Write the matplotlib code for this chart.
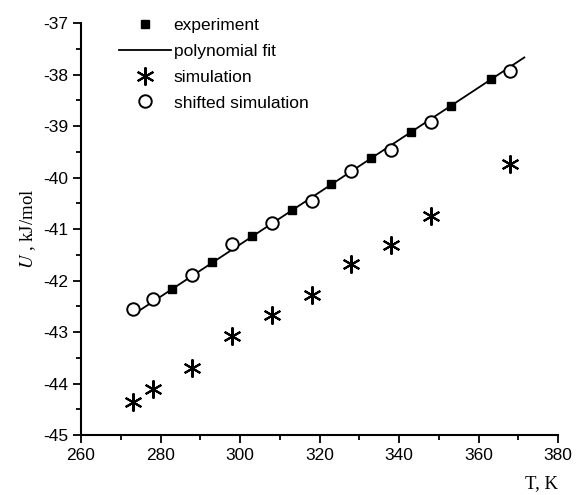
import numpy as np
import matplotlib
matplotlib.use("Agg")
import matplotlib.pyplot as plt
from matplotlib.ticker import MultipleLocator

plt.rcParams['font.family'] = ['Liberation Sans', 'DejaVu Sans']
plt.rcParams['mathtext.fontset'] = 'stix'
plt.rcParams['axes.unicode_minus'] = False

# experiment
t_exp = [283, 293, 303, 313, 323, 333, 343, 353, 363]
u_exp = [-42.17, -41.65, -41.14, -40.64, -40.13, -39.63, -39.12, -38.62, -38.09]

# simulation and shifted simulation
t_sim = [273, 278, 288, 298, 308, 318, 328, 338, 348, 368]
u_sim = [-44.35, -44.10, -43.70, -43.08, -42.67, -42.28, -41.67, -41.31, -40.74, -39.74]
u_shift = [-42.55, -42.35, -41.90, -41.30, -40.88, -40.45, -39.87, -39.47, -38.93, -37.93]

# range of the fitted curve
fit_range = [273, 371.5]

coef = np.polyfit(t_exp, u_exp, 2)
t_fit = np.linspace(fit_range[0], fit_range[1], 100)
u_fit = np.polyval(coef, t_fit)

fig = plt.figure(figsize=(5.76, 4.95), dpi=100)
ax = fig.add_axes([0.1406, 0.1212, 0.8284, 0.8323])

ax.plot(t_exp, u_exp, ls='none', marker='s', ms=6, color='black', label='experiment', zorder=3)
ax.plot(t_fit, u_fit, color='black', lw=1.3, label='polynomial fit', zorder=2)
ax.plot(t_sim, u_sim, ls='none', marker=(6, 2, 0), ms=13, mew=1.5, color='black', label='simulation')
ax.plot(t_sim, u_shift, ls='none', marker='o', ms=9, mfc='white', mec='black', mew=1.4,
        label='shifted simulation', zorder=4)

ax.set_xlim(260, 380)
ax.set_ylim(-45, -37)
ax.xaxis.set_major_locator(MultipleLocator(20))
ax.xaxis.set_minor_locator(MultipleLocator(10))
ax.yaxis.set_major_locator(MultipleLocator(1))
ax.yaxis.set_minor_locator(MultipleLocator(0.5))
ax.spines['top'].set_visible(False)
ax.spines['right'].set_visible(False)
for s in ('left', 'bottom'):
    ax.spines[s].set_linewidth(1.5)
ax.tick_params(which='major', direction='out', length=6, width=1.3, labelsize=12.5, pad=3)
ax.tick_params(which='minor', direction='out', length=3.5, width=1.3)

ax.set_ylabel('$U$ , kJ/mol', family='Liberation Serif', fontsize=13.5, labelpad=4)
ax.set_xlabel('T, K', family='Liberation Serif', fontsize=13.5, loc='right', labelpad=9)

leg = ax.legend(loc='upper left', bbox_to_anchor=(0.065, 1.03), frameon=False, fontsize=12.5,
                handlelength=3.0, handletextpad=0.15, labelspacing=0.62, borderaxespad=0)

fig.savefig('out.png', dpi=100)
